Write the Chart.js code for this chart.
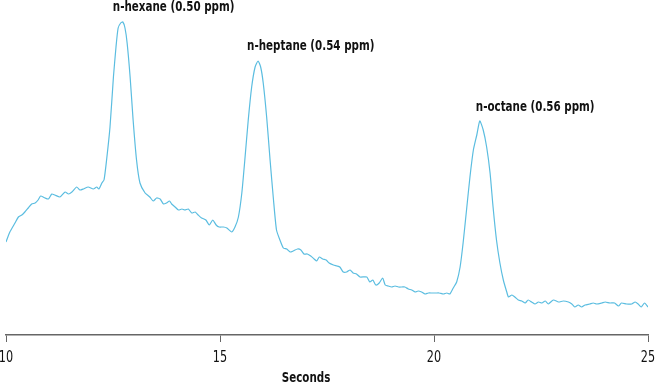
<!DOCTYPE html>
<html lang="en">
<head>
    <meta charset="UTF-8" />
    <title>Chromatogram</title>
    <script src="https://cdn.jsdelivr.net/npm/chart.js"></script>
    <style>
        body {
            margin: 0;
            padding: 0;
            background: #fff;
        }

        .wrap {
            width: 655px;
            height: 383px;
            position: relative;
        }
    </style>
</head>
<body>
    <div class="wrap"><canvas id="chrom"></canvas></div>

    <script>
        // retention time (s) and detector signal (arbitrary units)
        const times = [
            10.00, 10.09, 10.21, 10.29, 10.37, 10.44, 10.52, 10.60, 10.68, 10.75,
            10.81, 10.91, 10.99, 11.07, 11.14, 11.26, 11.38, 11.46, 11.54, 11.65,
            11.73, 11.81, 11.92, 12.04, 12.12, 12.17, 12.24, 12.29, 12.35, 12.43,
            12.51, 12.57, 12.62, 12.68, 12.73, 12.78, 12.83, 12.90, 12.97, 13.05,
            13.13, 13.25, 13.36, 13.44, 13.52, 13.60, 13.68, 13.75, 13.82, 13.87,
            13.95, 14.03, 14.11, 14.18, 14.26, 14.34, 14.42, 14.49, 14.57, 14.67,
            14.75, 14.83, 14.91, 14.98, 15.08, 15.16, 15.27, 15.35, 15.43, 15.51,
            15.58, 15.66, 15.74, 15.82, 15.89, 15.95, 16.01, 16.09, 16.17, 16.25,
            16.32, 16.40, 16.48, 16.56, 16.64, 16.71, 16.81, 16.89, 16.96, 17.04,
            17.12, 17.20, 17.26, 17.32, 17.40, 17.48, 17.55, 17.65, 17.73, 17.80,
            17.88, 17.96, 18.04, 18.11, 18.19, 18.27, 18.43, 18.50, 18.57, 18.64,
            18.72, 18.80, 18.86, 18.93, 19.01, 19.09, 19.17, 19.25, 19.32, 19.40,
            19.48, 19.56, 19.63, 19.71, 19.79, 19.87, 19.95, 20.05, 20.12, 20.22,
            20.30, 20.37, 20.45, 20.53, 20.61, 20.68, 20.76, 20.84, 20.92, 21.00,
            21.07, 21.15, 21.23, 21.31, 21.38, 21.46, 21.54, 21.62, 21.70, 21.74,
            21.82, 21.89, 21.97, 22.05, 22.13, 22.20, 22.28, 22.36, 22.44, 22.52,
            22.60, 22.67, 22.79, 22.91, 23.02, 23.14, 23.22, 23.29, 23.37, 23.45,
            23.53, 23.64, 23.72, 23.80, 23.92, 24.00, 24.11, 24.22, 24.31, 24.38,
            24.50, 24.62, 24.70, 24.77, 24.84, 24.92, 25.00
        ];
        const signal = [
            93, 103, 112, 118, 120, 123, 127, 131, 132, 135,
            139, 137, 136, 141, 140, 138, 143, 141, 143, 148,
            145, 146, 148, 146, 148, 146, 152, 155, 175, 208,
            258, 288, 307, 312, 313, 307, 292, 258, 215, 175,
            152, 142, 138, 134, 137, 136, 131, 132, 134, 131,
            128, 125, 126, 125, 126, 122, 123, 120, 117, 115,
            110, 115, 110, 108, 108, 107, 103, 108, 118, 142,
            175, 215, 248, 268, 274, 268, 252, 218, 175, 135,
            105, 95, 87, 86, 83, 84, 86, 85, 81, 81,
            79, 76, 74, 78, 76, 75, 72, 70, 69, 68,
            63, 63, 65, 62, 61, 58, 58, 53, 55, 50,
            52, 57, 50, 49, 48, 49, 48, 48, 48, 46,
            45, 43, 44, 43, 41, 42, 42, 42, 42, 41,
            42, 41, 47, 53, 68, 92, 125, 158, 185, 200,
            214, 205, 188, 162, 128, 95, 72, 55, 43, 38,
            40, 38, 35, 34, 32, 35, 33, 31, 33, 32,
            34, 31, 35, 33, 34, 33, 31, 28, 30, 28,
            30, 31, 32, 31, 32, 33, 32, 32, 29, 32,
            31, 31, 33, 31, 28, 32, 28
        ];

        // peak annotations
        const peakNames = ['n-hexane (0.50 ppm)', 'n-heptane (0.54 ppm)', 'n-octane (0.56 ppm)'];
        const peakTimes = [12.73, 15.89, 21.07];
        const peakHeights = [313, 274, 214];

        const xTicks = [10, 15, 20, 25];
        const xTitle = 'Seconds';

        const fontFam = "'DejaVu Sans Condensed', 'DejaVu Sans', sans-serif";

        // no narrow font installed, so squeeze the text horizontally
        function narrowText(ctx, text, x, y, squeeze) {
            ctx.save();
            ctx.translate(x, y);
            ctx.scale(squeeze, 1);
            ctx.fillText(text, 0, 0);
            ctx.restore();
        }

        const textLayer = {
            id: 'textLayer',
            afterDatasetsDraw(chart, args, opts) {
                const { ctx, scales: { x, y }, chartArea } = chart;
                ctx.save();
                ctx.fillStyle = '#111';
                ctx.textBaseline = 'middle';

                ctx.font = 'bold 14px ' + fontFam;
                ctx.textAlign = 'left';
                peakNames.forEach((name, i) => {
                    const px = x.getPixelForValue(peakTimes[i]) + opts.dx[i];
                    const py = y.getPixelForValue(peakHeights[i]) - opts.dy[i];
                    narrowText(ctx, name, px, py, 0.82);
                });

                ctx.font = '16px ' + fontFam;
                ctx.textAlign = 'center';
                xTicks.forEach(v => {
                    narrowText(ctx, String(v), x.getPixelForValue(v), chartArea.bottom + 23, 0.78);
                });

                ctx.font = 'bold 14px ' + fontFam;
                narrowText(ctx, xTitle, 306, chartArea.bottom + 43, 0.82);
                ctx.restore();
            }
        };

        new Chart(document.getElementById('chrom'), {
            type: 'line',
            data: {
                datasets: [{
                    data: times.map((t, i) => ({ x: t, y: signal[i] })),
                    borderColor: '#5bbde0',
                    borderWidth: 1.2,
                    pointRadius: 0,
                    tension: 0.2,
                    fill: false
                }]
            },
            options: {
                responsive: true,
                maintainAspectRatio: false,
                animation: false,
                layout: { padding: { top: 0, bottom: 0, left: 6, right: 7 } },
                plugins: {
                    legend: { display: false },
                    tooltip: { enabled: false },
                    textLayer: { dx: [-10, -11, -4], dy: [15, 15, 14] }
                },
                scales: {
                    x: {
                        type: 'linear',
                        min: 10,
                        max: 25,
                        afterBuildTicks: s => { s.ticks = xTicks.map(v => ({ value: v })); },
                        afterFit: s => { s.height = 48; },
                        grid: { drawOnChartArea: false, drawTicks: true, tickLength: 7, color: '#666' },
                        border: { display: true, color: '#666', width: 1.5 },
                        ticks: { display: false }
                    },
                    y: {
                        display: false,
                        min: 0,
                        max: 335
                    }
                }
            },
            plugins: [textLayer]
        });
    </script>
</body>
</html>
